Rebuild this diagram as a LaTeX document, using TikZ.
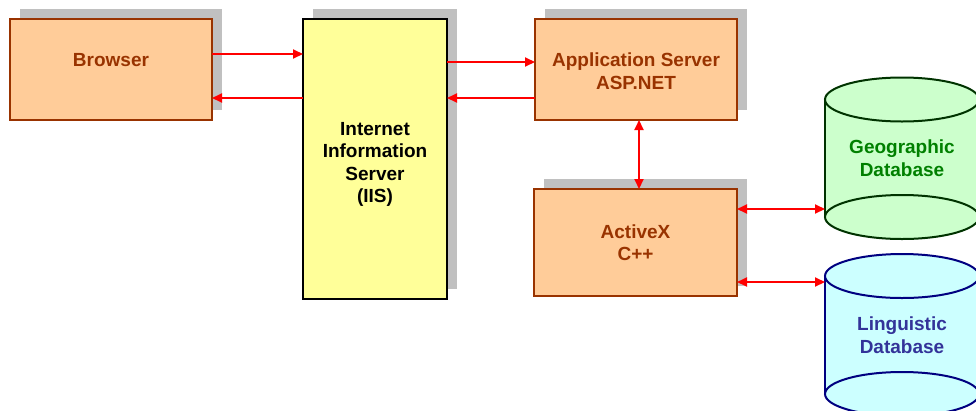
\documentclass[tikz,border=0pt]{standalone}
\usepackage{fontspec}
\setmainfont{Liberation Sans}
\usetikzlibrary{arrows.meta}
\usetikzlibrary{shadows}

\definecolor{boxfill}{HTML}{FFCC99}
\definecolor{boxline}{HTML}{993300}
\definecolor{iisfill}{HTML}{FFFF99}
\definecolor{shadowgray}{HTML}{C0C0C0}
\definecolor{geofill}{HTML}{CCFFCC}
\definecolor{geoline}{HTML}{003300}
\definecolor{geotext}{HTML}{008000}
\definecolor{lingfill}{HTML}{CCFFFF}
\definecolor{lingline}{HTML}{000080}
\definecolor{lingtext}{HTML}{333399}

\begin{document}
\begin{tikzpicture}[x=1pt, y=-1pt,
	every node/.style={font=\fontsize{19pt}{22.5pt}\selectfont\bfseries, align=center},
	tier/.style={draw=boxline, fill=boxfill, text=boxline, line width=2pt, outer sep=0pt,
		drop shadow={shadow xshift=10pt, shadow yshift=10pt, fill=shadowgray, opacity=1}},
	link/.style={red, line width=2pt, -{Triangle[length=10pt, width=9pt]}},
	duplex/.style={link, {Triangle[length=10pt, width=9pt]}-{Triangle[length=10pt, width=9pt]}},
	dbside/.style={minimum width=154pt, inner sep=0pt, outer sep=0pt}
]

	\useasboundingbox (0,0) rectangle (976,410);

	%tiers
	\node[tier, minimum width=202pt, minimum height=101pt] (browser) at (111,69.5) {Browser\rule[-20pt]{0pt}{0pt}};
	\node[tier, draw=black, fill=iisfill, text=black, minimum width=144pt, minimum height=280pt] (iis) at (375,159) {\rule{0pt}{24pt}Internet\\Information\\Server\\(IIS)};
	\node[tier, minimum width=202pt, minimum height=101pt] (app) at (636,69.5) {\rule{0pt}{17pt}Application Server\\ASP.NET};
	\node[tier, minimum width=203pt, minimum height=107pt] (activex) at (635.5,242.5) {ActiveX\\C++};

	%databases
	\fill[geofill] (825,99.5) rectangle (979,217);
	\filldraw[fill=geofill, draw=geoline, line width=2pt] (902,217) ellipse [x radius=77pt, y radius=22pt];
	\draw[geoline, line width=2pt] (825,99.5) -- (825,217) (979,99.5) -- (979,217);
	\filldraw[fill=geofill, draw=geoline, line width=2pt] (902,99.5) ellipse [x radius=77pt, y radius=22pt];
	\node[dbside, minimum height=117.5pt, text=geotext] (geo) at (902,158.25) {Geographic\\Database};

	\fill[lingfill] (825,276) rectangle (979,394);
	\filldraw[fill=lingfill, draw=lingline, line width=2pt] (902,394) ellipse [x radius=77pt, y radius=22pt];
	\draw[lingline, line width=2pt] (825,276) -- (825,394) (979,276) -- (979,394);
	\filldraw[fill=lingfill, draw=lingline, line width=2pt] (902,276) ellipse [x radius=77pt, y radius=22pt];
	\node[dbside, minimum height=118pt, text=lingtext] (ling) at (902,335) {Linguistic\\Database};

	%requests and responses
	\draw[link] ([yshift=15.5pt]browser.east) -- ([yshift=15.5pt]browser.east -| iis.west);
	\draw[link] ([yshift=-28.5pt]browser.east -| iis.west) -- ([yshift=-28.5pt]browser.east);
	\draw[link] ([yshift=7.5pt]app.west -| iis.east) -- ([yshift=7.5pt]app.west);
	\draw[link] ([yshift=-28.5pt]app.west) -- ([yshift=-28.5pt]app.west -| iis.east);

	%data access
	\draw[duplex] ([xshift=3pt]app.south) -- ([xshift=3pt]app.south |- activex.north);
	\draw[duplex] ([yshift=33.5pt]activex.east) -- ([yshift=33.5pt]activex.east -| geo.west);
	\draw[duplex] ([yshift=-39.5pt]activex.east) -- ([yshift=-39.5pt]activex.east -| ling.west);

\end{tikzpicture}
\end{document}
